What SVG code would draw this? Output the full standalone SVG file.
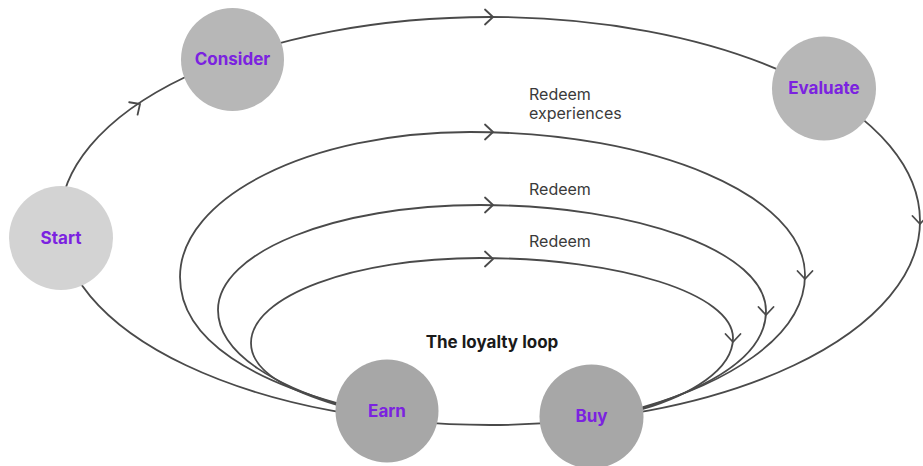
<svg xmlns="http://www.w3.org/2000/svg" xmlns:xlink="http://www.w3.org/1999/xlink" width="923" height="466" viewBox="0 0 923 466">
<defs>
<style>
.ln{fill:none;stroke:#4a4a4a;stroke-width:1.8;stroke-linecap:round;stroke-linejoin:round}
.lbl{font-family:Inter,"Liberation Sans",sans-serif;font-weight:700;font-size:17px;fill:#7b22e0;text-anchor:middle}
.red{font-family:Inter,"Liberation Sans",sans-serif;font-size:16px;fill:#3a3a3a}
.ttl{font-family:Inter,"Liberation Sans",sans-serif;font-weight:700;font-size:17px;fill:#1a1a1a;text-anchor:middle}
.n1{fill:#d3d3d3}
.n2{fill:#b7b7b7}
.n3{fill:#a7a7a7}
</style>
<path id="chev" class="ln" d="M-8,-7.5 L0,0 L-8,7.5"/>
</defs>
<rect width="923" height="466" fill="#ffffff"/>
<g id="connectors">
<ellipse class="ln" cx="490" cy="221" rx="430" ry="204"/>
<path class="ln" d="M337,403 C265,383 180,345 180,277 C180,197 310,132 470,132 C655,132 805,196 805,275 C805,340 720,385 643,407"/>
<path class="ln" d="M337,404 C285,388 218,357 218,310 C218,252 335,205 480,205 C638,205 766,252 766,311 C766,360 700,390 643,408"/>
<path class="ln" d="M337,405 C298,393 251,375 251,343 C251,296 354,258 480,258 C620,258 733,294 733,338 C733,370 690,395 643,409"/>
<use xlink:href="#chev" transform="translate(140,104) rotate(-34)"/>
<use xlink:href="#chev" transform="translate(493,17)"/>
<use xlink:href="#chev" transform="translate(920,224) rotate(90)"/>
<use xlink:href="#chev" transform="translate(493,132)"/>
<use xlink:href="#chev" transform="translate(493,205)"/>
<use xlink:href="#chev" transform="translate(493,259)"/>
<use xlink:href="#chev" transform="translate(805,279) rotate(90)"/>
<use xlink:href="#chev" transform="translate(766,315) rotate(90)"/>
<use xlink:href="#chev" transform="translate(733,342) rotate(90)"/>
</g>
<g id="labels">
<text class="red" x="529" y="100">Redeem</text>
<text class="red" x="529" y="119">experiences</text>
<text class="red" x="529" y="195">Redeem</text>
<text class="red" x="529" y="247">Redeem</text>
<text class="ttl" x="492" y="348">The loyalty loop</text>
</g>
<g id="node-start"><circle class="n1" cx="61" cy="238" r="52"/><text class="lbl" x="61" y="244">Start</text></g>
<g id="node-consider"><circle class="n2" cx="232.5" cy="59.5" r="51.5"/><text class="lbl" x="232.5" y="65">Consider</text></g>
<g id="node-evaluate"><circle class="n2" cx="824" cy="88.5" r="52"/><text class="lbl" x="824" y="94">Evaluate</text></g>
<g id="node-earn"><circle class="n3" cx="387" cy="411" r="51.5"/><text class="lbl" x="387" y="417">Earn</text></g>
<g id="node-buy"><circle class="n3" cx="591.5" cy="416.5" r="52"/><text class="lbl" x="591.5" y="422">Buy</text></g>
</svg>
